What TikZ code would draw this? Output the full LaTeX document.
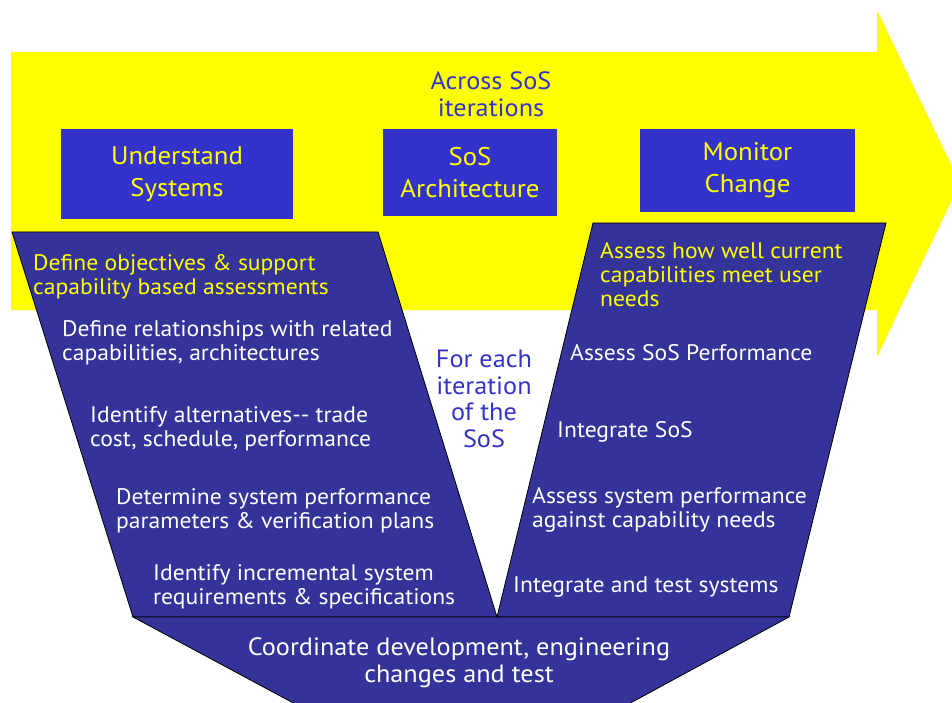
\documentclass[tikz,border=0pt]{standalone}
\usepackage{fontspec}
\setmainfont[FakeStretch=1.05]{PT Sans}
\definecolor{yel}{HTML}{FFFF00}
\definecolor{boxblue}{HTML}{3333CC}
\definecolor{vblue}{HTML}{333399}
\begin{document}
\begin{tikzpicture}[x=1pt,y=-1pt,
  topbox/.style={fill=boxblue, draw=none, text=yel, align=center, inner sep=0pt,
    font=\fontsize{25.5}{32}\selectfont},
  vshape/.style={fill=vblue, draw=black, line width=0.8pt},
  steptext/.style={text=white, anchor=west, align=left, inner sep=0pt,
    font=\fontsize{22.5}{24}\selectfont},
  yeltext/.style={steptext, text=yel},
  bluetext/.style={text=boxblue, align=center, inner sep=0pt,
    font=\fontsize{25}{26.5}\selectfont}]
\useasboundingbox (0,0) rectangle (952,703);
\clip (0,0) rectangle (952,703);
% big yellow arrow
\fill[yel] (11,52) -- (877,52) -- (877,10) -- (960,183) -- (877,357) -- (877,310) -- (11,310) -- cycle;
\node[bluetext] (across) at (491,94.5) {Across SoS\\iterations};
% top boxes
\node[topbox, minimum width=232pt, minimum height=90pt] (us) at (177,174) {\raisebox{-2pt}{\parbox{200pt}{\centering Understand\\Systems}}};
\node[topbox, minimum width=174pt, minimum height=87pt] (arch) at (470,172.5) {\raisebox{-2pt}{\parbox{170pt}{\centering SoS\\Architecture}}};
\node[topbox, minimum width=215pt, minimum height=83pt] (mon) at (747.5,170.5) {\raisebox{-2pt}{\parbox{200pt}{\centering Monitor\\Change}}};
% V shapes
\draw[vshape] (12,232) -- (378,232) -- (497,617) -- (133,617) -- cycle;
\draw[vshape] (593,223) -- (886,223) -- (789,617) -- (497,617) -- cycle;
\draw[vshape] (133,617) -- (789,617) -- (599,720) -- (325,720) -- cycle;
% left side texts
\node[yeltext] (l1) at (33,277) {Define objectives \& support\\capability based assessments};
\node[steptext] (l2) at (62,343) {Define relationships with related\\capabilities, architectures};
\node[steptext] (l3) at (90,429) {Identify alternatives-{}- trade\\cost, schedule, performance};
\node[steptext] (l4) at (116,510.5) {Determine system performance\\parameters \& verification plans};
\node[steptext] (l5) at (153,586.5) {Identify incremental system\\requirements \& specifications};
% right side texts
\node[yeltext] (r1) at (600,275) {Assess how well current\\capabilities meet user\\needs};
\node[steptext] (r2) at (570,352.5) {Assess SoS Performance};
\node[steptext] (r3) at (557,431.5) {Integrate SoS};
\node[steptext] (r4) at (532,509.5) {Assess system performance\\against capability needs};
\node[steptext] (r5) at (513,587.5) {Integrate and test systems};
% centre text
\node[bluetext] (each) at (484,399) {For each\\iteration\\of the\\SoS};
% bottom text
\node[text=white, align=center, inner sep=0pt, font=\fontsize{25}{26.5}\selectfont] (coord) at (459,662.5) {Coordinate development, engineering\\changes and test};
\end{tikzpicture}
\end{document}
